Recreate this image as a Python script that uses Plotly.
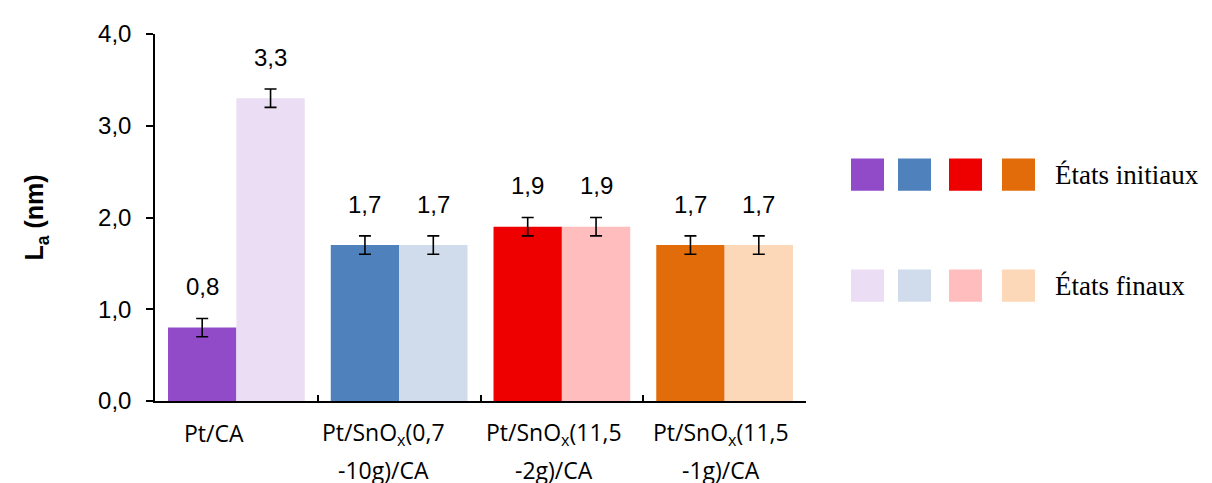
import plotly.graph_objects as go
import numpy as np

# ---- data ----
categories_line1 = ["Pt/CA", "Pt/SnO<sub>x</sub>(0,7", "Pt/SnO<sub>x</sub>(11,5", "Pt/SnO<sub>x</sub>(11,5"]
categories_line2 = ["", "-10g)/CA", "-2g)/CA", "-1g)/CA"]
initial_values = [0.8, 1.7, 1.9, 1.7]
final_values = [3.3, 1.7, 1.9, 1.7]
initial_errors = [0.1, 0.1, 0.1, 0.1]
final_errors = [0.1, 0.1, 0.1, 0.1]
initial_colors = ["#914AC8", "#4F81BD", "#EE0000", "#E36C0A"]
final_colors = ["#EBDDF3", "#D0DCEB", "#FFBDBD", "#FCD7B8"]
legend_labels = ["États initiaux", "États finaux"]
y_ticks = [0, 1, 2, 3, 4]

# ---- layout constants (pixels; page body has an 8px margin) ----
OFF = 8
W, H = 1212 - OFF, 483 - OFF
L, T = 155 - OFF, 24 - OFF
PLOT_RIGHT, PLOT_BOTTOM = 806 - OFF, 401 - OFF
R, B = W - PLOT_RIGHT, H - PLOT_BOTTOM
PW, PH = W - L - R, H - T - B
BARGAP = 0.16
label_xshift = [-22, -16, -8, -4]

idx = np.arange(len(initial_values))
half = (1 - BARGAP) / 4

def fmt(v):
    return f"{v:.1f}".replace(".", ",")

fig = go.Figure()
fig.add_trace(go.Bar(
    x=idx, y=initial_values, marker=dict(color=initial_colors, line=dict(width=0)),
    error_y=dict(type="data", array=initial_errors, color="black", thickness=1.6, width=6),
    name=legend_labels[0], showlegend=False,
))
fig.add_trace(go.Bar(
    x=idx, y=final_values, marker=dict(color=final_colors, line=dict(width=0)),
    error_y=dict(type="data", array=final_errors, color="black", thickness=1.6, width=6),
    name=legend_labels[1], showlegend=False,
))

annotations = []
for i in idx:
    for off, v in ((-half, initial_values[i]), (half, final_values[i])):
        annotations.append(dict(
            x=i + off, y=v, xref="x", yref="y", text=fmt(v), showarrow=False,
            yshift=41, font=dict(family="Liberation Sans, Arial", size=24, color="black"),
        ))
    annotations.append(dict(
        x=i, y=0, xref="x", yref="y", text=categories_line1[i], showarrow=False,
        yshift=-32, xshift=label_xshift[i],
        font=dict(family="Open Sans, Noto Sans", size=23, color="black"),
    ))
    if categories_line2[i]:
        annotations.append(dict(
            x=i, y=0, xref="x", yref="y", text=categories_line2[i], showarrow=False,
            yshift=-69, xshift=label_xshift[i],
            font=dict(family="Open Sans, Noto Sans", size=23, color="black"),
        ))

# custom legend: rows of coloured squares + serif text (page pixel positions)
def px_x(p):
    return (p - OFF - L) / PW

def px_y(p):
    return (PLOT_BOTTOM - (p - OFF)) / PH

shapes = []
sq_x = [851, 898, 949, 1002]
sq_size = 33
row_y = [152, 266]
for r, cols in enumerate((initial_colors, final_colors)):
    for j, c in enumerate(cols):
        shapes.append(dict(
            type="rect", xref="paper", yref="paper",
            x0=px_x(sq_x[j]), x1=px_x(sq_x[j] + sq_size),
            y0=px_y(row_y[r] + sq_size), y1=px_y(row_y[r]),
            fillcolor=c, line=dict(width=0),
        ))
    annotations.append(dict(
        x=px_x(1053), y=px_y(row_y[r] + sq_size / 2), xref="paper", yref="paper",
        xanchor="left", yanchor="middle", text=legend_labels[r], showarrow=False,
        font=dict(family="Liberation Serif, Times New Roman", size=27, color="black"),
    ))

fig.update_layout(
    width=W, height=H,
    margin=dict(l=L, r=R, t=T, b=B),
    plot_bgcolor="white", paper_bgcolor="white",
    barmode="group", bargap=BARGAP, bargroupgap=0,
    separators=",.",
    showlegend=False,
    annotations=annotations,
    shapes=shapes,
    xaxis=dict(
        range=[-0.5, len(idx) - 0.5], tickvals=list(np.arange(len(idx) + 1) - 0.5),
        showticklabels=False, ticks="inside", ticklen=6, tickwidth=1.5, tickcolor="black",
        showline=True, linecolor="black", linewidth=1.5, showgrid=False, zeroline=False,
    ),
    yaxis=dict(
        range=[0, 4], tickvals=y_ticks, tickformat=".1f",
        ticks="outside", ticklen=7, tickwidth=1.5, tickcolor="black",
        showline=True, linecolor="black", linewidth=1.5, showgrid=False, zeroline=False,
        tickfont=dict(family="Liberation Sans, Arial", size=24, color="black"),
        ticklabelstandoff=10,
        title=dict(text="<b>L<sub>a</sub> (nm)</b>", standoff=47,
                   font=dict(family="Liberation Sans, Arial", size=25, color="black")),
    ),
)

fig.write_html("out.html")
